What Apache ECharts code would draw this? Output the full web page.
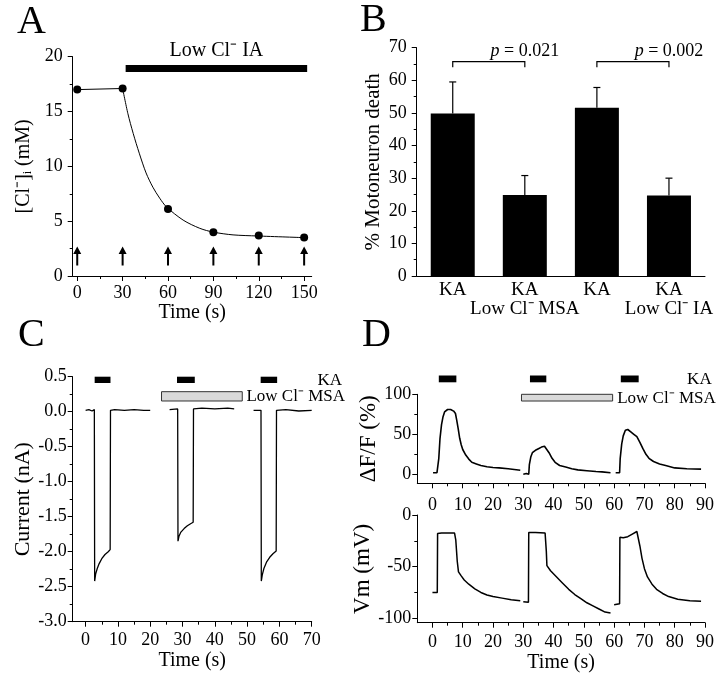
<!DOCTYPE html>
<html><head><meta charset="utf-8">
<script src="https://cdn.jsdelivr.net/npm/echarts@6/dist/echarts.min.js"></script>
<style>html,body{margin:0;padding:0;background:#fff}#c{width:720px;height:676px}</style>
</head><body><div id="c"></div>
<script>
// ---------- Panel A ----------
const aTime = [0, 30, 60, 90, 120, 150];
const aChloride = [17.0, 17.1, 6.1, 4.0, 3.7, 3.5];
const aFitCurve = [[30,17.1],[33.5,14.8],[37,13.0],[41,11.2],[45.5,9.4],[50,8.1],[54.5,7.1],[59,6.3],[70,5.1],[81,4.35],[90,4.0],[103,3.75],[119,3.65],[150,3.5]];
const aArrowTimes = [0, 30, 60, 90, 120, 150];
const aLowClPeriod = [[32, 152]];
const aXTicks = [0, 30, 60, 90, 120, 150];
const aXMinor = [15, 45, 75, 105, 135];

// ---------- Panel B ----------
const bCategories = ['KA', 'KA\nLow Cl⁻ MSA', 'KA', 'KA\nLow Cl⁻ IA'];
const bMean = [49.8, 24.8, 51.6, 24.7];
const bErr = [9.7, 6.0, 6.2, 5.3];
const bComparisons = [[0, 1], [2, 3]];
const bPValues = ['0.021', '0.002'];

// ---------- Panel C ----------
const cSweep1 = [[0,0.02],[1,0.03],[2,0.01],[2.7,0.03],[2.8,-2.42],[3.1,-2.32],[3.6,-2.24],[4.2,-2.17],[5,-2.1],[6,-2.04],[7,-2.0],[7.6,-1.97],[7.7,0.02],[9,0.03],[12,0.02],[15,0.03],[18,0.02],[20,0.02]];
const cSweep2 = [[26,0.03],[28.5,0.04],[28.6,-1.85],[28.9,-1.78],[29.5,-1.72],[30.5,-1.67],[31.5,-1.63],[32.5,-1.6],[33.3,-1.58],[33.4,0.04],[36,0.05],[40,0.04],[44,0.05],[46,0.04]];
const cSweep3 = [[52,0.02],[54.3,0.02],[54.4,-2.42],[54.7,-2.33],[55.2,-2.24],[56,-2.15],[57,-2.08],[58,-2.03],[59,-1.99],[59.1,0.02],[62,0.03],[66,0.01],[70,0.02]];
const cKAPeriods = [[2.8,7.7],[28.3,33.8],[54.2,59.3]];
const cMSAPeriod = [[23.5,48.5]];
const cXTicks = [0,10,20,30,40,50,60,70];
const cXMinor = [5,15,25,35,45,55,65];

// ---------- Panel D ----------
const dFluo1 = [[0.2,2],[0.8,1],[1.5,2],[1.9,1],[2.1,20],[2.5,45],[3,62],[3.5,72],[4,78],[5,81],[6,81],[7,79],[7.6,76],[8,68],[8.5,57],[9,45],[9.5,37],[10,31],[11,24],[12,19],[13,15],[14.5,13],[16,11],[18,9.5],[20,8.5],[22,8],[25,7],[27,6],[29,5]];
const dFluo2 = [[30,0],[31,1],[31.8,0],[32,12],[32.5,22],[33,27],[34,30],[35,32],[36,34],[37,35],[37.5,33],[38.5,27],[39.5,20],[40.5,15],[42,11],[44,9],[46,7],[48,5.5],[51,4.5],[54,3.5],[56,3],[58.8,2]];
const dFluo3 = [[60.5,2],[61,1],[61.8,2],[62,20],[62.5,38],[63,48],[63.7,55],[64.5,56],[65.5,53],[66.5,50],[67.5,47],[68.5,40],[69.5,32],[70.5,25],[71.5,20],[73,16],[75,13],[77,11],[80,8],[84,7],[88.7,6.5]];
const dVm1 = [[0,-75],[1.6,-75],[1.7,-18],[3,-17.5],[5,-17.5],[7.3,-17.5],[7.7,-24],[8.2,-45],[8.6,-55],[9.5,-59],[10.5,-63],[12,-67],[14,-71.5],[16,-75],[18,-77.5],[20,-79],[23,-80.5],[26,-82],[29,-83]];
const dVm2 = [[30,-84],[31.7,-84.5],[31.8,-17],[34,-17],[37.2,-17.5],[37.6,-35],[37.8,-49],[39,-54],[41,-60],[43,-66],[45,-72],[47,-77],[49,-81],[51,-85],[53,-88],[55,-91],[57,-94],[58.8,-95]];
const dVm3 = [[60,-87],[61.8,-86],[61.9,-21.5],[63,-22],[64.5,-21],[66,-18.5],[67.5,-16],[68,-17],[68.5,-30],[69.2,-42],[70,-52],[71,-60],[72.5,-67],[74,-72],[76,-76],[78,-79],[81,-81.5],[85,-83],[88.7,-83.5]];
const dKAPeriods = [[2.1,7.9],[32.2,37.6],[62.2,68.1]];
const dMSAPeriod = [[29.4,59.5]];
const dXTicks = [0,10,20,30,40,50,60,70,80,90];
const dXMinor = [5,15,25,35,45,55,65,75,85];
const dFluoTicks = [0, 50, 100];
const dFluoMinor = [25, 75];
const dVmTicks = [-100, -50, 0];
const dVmMinor = [-75, -25];

// ---------- helpers ----------
const FONT = 'Liberation Serif';
const K = '#000';
function isObj(o){ return o && typeof o === 'object' && !Array.isArray(o); }
function merge(a, b){ const r = Object.assign({}, a); for (const k in b){ r[k] = (isObj(a[k]) && isObj(b[k])) ? merge(a[k], b[k]) : b[k]; } return r; }
function axisBase(extra){
  return merge({
    type: 'value',
    axisLine: { show: true, onZero: false, lineStyle: { color: K, width: 1 } },
    splitLine: { show: false },
    axisTick: { show: true, inside: false, length: 5, lineStyle: { color: K, width: 1 } },
    axisLabel: { color: K, fontSize: 18, fontFamily: FONT },
    nameTextStyle: { color: K, fontFamily: FONT, fontSize: 20 },
    nameLocation: 'middle'
  }, extra);
}
function minorAxis(extra){
  return merge({
    type: 'value',
    axisLine: { show: false, onZero: false },
    splitLine: { show: false },
    axisLabel: { show: false },
    axisTick: { show: true, inside: false, length: 3, lineStyle: { color: K, width: 1 } }
  }, extra);
}
function boxSeries(xi, yi, periods, y0, y1, fill, stroke){
  return {
    type: 'custom', xAxisIndex: xi, yAxisIndex: yi, clip: false, silent: true, z: 5,
    data: periods,
    renderItem(params, api){
      const p0 = api.coord([api.value(0), y1]);
      const p1 = api.coord([api.value(1), y0]);
      return { type: 'rect', shape: { x: p0[0], y: p0[1], width: p1[0] - p0[0], height: p1[1] - p0[1] },
        style: { fill: fill, stroke: stroke || null, lineWidth: stroke ? 1 : 0 } };
    }
  };
}
function textSeries(xi, yi, x, y, text, align, size){
  return {
    type: 'custom', xAxisIndex: xi, yAxisIndex: yi, clip: false, silent: true, z: 6,
    data: [[x, y]],
    renderItem(params, api){
      const p = api.coord([api.value(0), api.value(1)]);
      return { type: 'text', x: p[0], y: p[1],
        style: { text: text, fill: K, fontFamily: FONT, fontSize: size || 17, align: align || 'center', verticalAlign: 'middle' } };
    }
  };
}
function trace(xi, yi, data, w){
  return { type: 'line', xAxisIndex: xi, yAxisIndex: yi, data: data, showSymbol: false, symbol: 'none',
    lineStyle: { color: K, width: w || 1.2 }, z: 3 };
}
const arrowPath = 'path://M0,8 L4,0 L8,8 L5,8 L5,20 L3,20 L3,8 Z';

const option = {
  animation: false,
  backgroundColor: '#fff',
  textStyle: { fontFamily: FONT, color: K },
  grid: [
    { left: 72.7, top: 56.7, width: 239, height: 219.3 },
    { left: 416.7, top: 47.7, width: 288.3, height: 228.3 },
    { left: 72.7, top: 376.7, width: 239, height: 245 },
    { left: 417.3, top: 394.3, width: 287.7, height: 89 },
    { left: 417.3, top: 515, width: 287.7, height: 107.7 }
  ],
  xAxis: [
    axisBase({ gridIndex: 0, position: 'bottom', min: -3, max: 155, name: 'Time (s)', nameGap: 27,
      axisTick: { customValues: aXTicks }, axisLabel: { customValues: aXTicks, margin: 8 } }),
    minorAxis({ gridIndex: 0, position: 'bottom', min: -3, max: 155, axisTick: { customValues: aXMinor } }),
    axisBase({ type: 'category', gridIndex: 1, position: 'bottom', data: bCategories,
      axisTick: { show: false }, axisLabel: { fontSize: 19, lineHeight: 19, margin: 5, interval: 0 } }),
    axisBase({ gridIndex: 2, position: 'bottom', min: -4, max: 70, name: 'Time (s)', nameGap: 29,
      axisTick: { customValues: cXTicks }, axisLabel: { customValues: cXTicks, margin: 10 } }),
    minorAxis({ gridIndex: 2, position: 'bottom', min: -4, max: 70, axisTick: { customValues: cXMinor } }),
    axisBase({ gridIndex: 3, position: 'bottom', min: -5, max: 90,
      axisTick: { customValues: dXTicks }, axisLabel: { customValues: dXTicks, margin: 13 } }),
    minorAxis({ gridIndex: 3, position: 'bottom', min: -5, max: 90, axisTick: { customValues: dXMinor } }),
    axisBase({ gridIndex: 4, position: 'bottom', min: -5, max: 90, name: 'Time (s)', nameGap: 29,
      axisTick: { customValues: dXTicks }, axisLabel: { customValues: dXTicks, margin: 11 } }),
    minorAxis({ gridIndex: 4, position: 'bottom', min: -5, max: 90, axisTick: { customValues: dXMinor } })
  ],
  yAxis: [
    axisBase({ gridIndex: 0, position: 'left', min: 0, max: 20, interval: 5, name: '[Cl⁻]ᵢ (mM)', nameGap: 39,
      minorTick: { show: true, splitNumber: 2, length: 3, lineStyle: { color: K } }, axisLabel: { margin: 10 } }),
    axisBase({ gridIndex: 1, position: 'left', min: 0, max: 70, interval: 10, name: '% Motoneuron death', nameGap: 33,
      nameTextStyle: { fontSize: 21 },
      minorTick: { show: true, splitNumber: 2, length: 3, lineStyle: { color: K } }, axisLabel: { margin: 10 } }),
    axisBase({ gridIndex: 2, position: 'left', min: -3, max: 0.5, interval: 0.5, name: 'Current (nA)', nameGap: 37,
      nameTextStyle: { fontSize: 22 },
      minorTick: { show: true, splitNumber: 2, length: 3, lineStyle: { color: K } },
      axisLabel: { margin: 6, formatter: v => v.toFixed(1) } }),
    axisBase({ gridIndex: 3, position: 'left', min: -11.25, max: 100, name: 'ΔF/F (%)', nameGap: 33,
      nameTextStyle: { fontSize: 23 },
      axisTick: { customValues: dFluoTicks }, axisLabel: { customValues: dFluoTicks, margin: 6 } }),
    minorAxis({ gridIndex: 3, position: 'left', min: -11.25, max: 100, axisTick: { customValues: dFluoMinor } }),
    axisBase({ gridIndex: 4, position: 'left', min: -104.3, max: 0, name: 'Vm (mV)', nameGap: 33,
      nameTextStyle: { fontSize: 23 },
      axisTick: { customValues: dVmTicks }, axisLabel: { customValues: dVmTicks, margin: 6 } }),
    minorAxis({ gridIndex: 4, position: 'left', min: -104.3, max: 0, axisTick: { customValues: dVmMinor } })
  ],
  graphic: [
    { type: 'text', left: 17, top: 2, style: { text: 'A', fontFamily: FONT, fontSize: 40, fill: K } },
    { type: 'text', left: 360, top: 0, style: { text: 'B', fontFamily: FONT, fontSize: 40, fill: K } },
    { type: 'text', left: 18, top: 315, style: { text: 'C', fontFamily: FONT, fontSize: 40, fill: K } },
    { type: 'text', left: 362, top: 315, style: { text: 'D', fontFamily: FONT, fontSize: 40, fill: K } }
  ],
  series: [
    // Panel A
    trace(0, 0, [[aTime[0], aChloride[0]], [aTime[1], aChloride[1]]], 1),
    Object.assign(trace(0, 0, aFitCurve, 1), { smooth: 0.3 }),
    { type: 'scatter', xAxisIndex: 0, yAxisIndex: 0, data: aTime.map((t, i) => [t, aChloride[i]]),
      symbol: 'circle', symbolSize: 8, itemStyle: { color: K, opacity: 1 }, z: 4 },
    { type: 'scatter', xAxisIndex: 0, yAxisIndex: 0, data: aArrowTimes.map(t => [t, 1.83]),
      symbol: arrowPath, symbolSize: [8, 19], symbolKeepAspect: false, itemStyle: { color: K, opacity: 1 }, z: 4 },
    boxSeries(0, 0, aLowClPeriod, 18.6, 19.24, K),
    textSeries(0, 0, 92, 20.5, 'Low Cl⁻ IA', 'center', 20),

    // Panel B
    { type: 'bar', xAxisIndex: 2, yAxisIndex: 1, data: bMean, barWidth: 44, itemStyle: { color: K }, z: 2 },
    { type: 'custom', xAxisIndex: 2, yAxisIndex: 1, clip: false, silent: true, z: 3,
      data: bMean.map((m, i) => [i, m, m + bErr[i]]),
      renderItem(params, api){
        const b = api.coord([api.value(0), api.value(1)]);
        const t = api.coord([api.value(0), api.value(2)]);
        const st = { stroke: K, lineWidth: 1.2 };
        return { type: 'group', children: [
          { type: 'line', shape: { x1: b[0], y1: b[1], x2: t[0], y2: t[1] }, style: st },
          { type: 'line', shape: { x1: t[0] - 3.5, y1: t[1], x2: t[0] + 3.5, y2: t[1] }, style: st }
        ] };
      } },
    { type: 'custom', xAxisIndex: 2, yAxisIndex: 1, clip: false, silent: true, z: 3,
      data: bComparisons,
      renderItem(params, api){
        const a0 = api.coord([api.value(0), 64.0]);
        const a1 = api.coord([api.value(0), 65.7]);
        const c1 = api.coord([api.value(1), 65.7]);
        const c0 = api.coord([api.value(1), 64.0]);
        const tp = api.coord([(api.value(0) + api.value(1)) / 2, 69.0]);
        return { type: 'group', children: [
          { type: 'polyline', shape: { points: [a0, a1, c1, c0] }, style: { stroke: K, lineWidth: 1.2, fill: null } },
          { type: 'text', x: tp[0], y: tp[1], style: { text: '{i|p} = ' + bPValues[params.dataIndex],
            rich: { i: { fontStyle: 'italic', fontFamily: FONT, fontSize: 18, fill: K } },
            fontFamily: FONT, fontSize: 18, fill: K, align: 'center', verticalAlign: 'middle' } }
        ] };
      } },

    // Panel C
    trace(3, 2, cSweep1, 1.3),
    trace(3, 2, cSweep2, 1.3),
    trace(3, 2, cSweep3, 1.3),
    boxSeries(3, 2, cKAPeriods, 0.41, 0.5, K),
    boxSeries(3, 2, cMSAPeriod, 0.153, 0.286, '#d9d9d9', '#333'),
    textSeries(3, 2, 79.4, 0.44, 'KA', 'right', 17),
    textSeries(3, 2, 49.8, 0.214, 'Low Cl⁻ MSA', 'left', 17),

    // Panel D top
    trace(5, 3, dFluo1, 1.6),
    trace(5, 3, dFluo2, 1.6),
    trace(5, 3, dFluo3, 1.6),
    boxSeries(5, 3, dKAPeriods, 115, 123.5, K),
    boxSeries(5, 3, dMSAPeriod, 91.6, 100, '#d9d9d9', '#333'),
    textSeries(5, 3, 92.2, 117.9, 'KA', 'right', 17),
    textSeries(5, 3, 61.0, 95, 'Low Cl⁻ MSA', 'left', 17),

    // Panel D bottom
    trace(7, 5, dVm1, 1.5),
    trace(7, 5, dVm2, 1.5),
    trace(7, 5, dVm3, 1.5)
  ]
};
const chart = echarts.init(document.getElementById('c'));
chart.setOption(option);
</script>
</body></html>
